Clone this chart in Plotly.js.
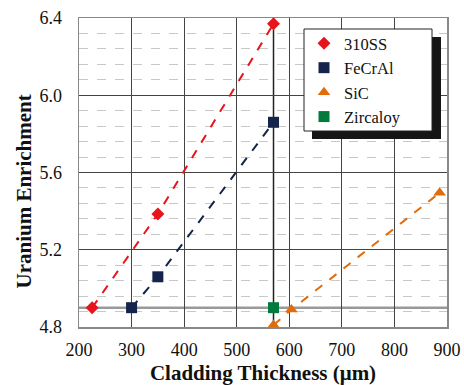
<!DOCTYPE html>
<html><head><meta charset="utf-8">
<script src="https://cdn.plot.ly/plotly-3.0.1.min.js"></script>
<style>body{margin:0;background:#fff}#c{width:464px;height:385px}</style>
</head><body><div id="c"></div>
<script>
const ss310X = [225, 350, 570];
const ss310Y = [4.90, 5.385, 6.37];
const fecralX = [300, 350, 570];
const fecralY = [4.90, 5.06, 5.86];
const sicX = [570, 604, 886];
const sicY = [4.81, 4.89, 5.495];
const zircX = [570];
const zircY = [4.90];
const xTicks = [200, 300, 400, 500, 600, 700, 800, 900];
const yTicks = [4.8, 5.2, 5.6, 6.0, 6.4];

const RED = '#e8141c', NAVY = '#14244a', ORANGE = '#e36c0a', GREEN = '#007a3d';
const F = '"Liberation Serif", "Times New Roman", serif';

function lineTrace(x, y, c) {
  return {x, y, mode: 'lines', line: {color: c, width: 2, dash: 'dash'}, showlegend: false, hoverinfo: 'skip'};
}
function markTrace(x, y, name, sym, c, s) {
  return {x, y, name, mode: 'markers', marker: {symbol: sym, color: c, size: s}};
}

const data = [
  lineTrace(ss310X, ss310Y, RED),
  lineTrace(fecralX, fecralY, NAVY),
  lineTrace(sicX, sicY, ORANGE),
  markTrace(ss310X, ss310Y, '310SS', 'diamond', RED, 10),
  markTrace(fecralX, fecralY, 'FeCrAl', 'square', NAVY, 11),
  markTrace(sicX, sicY, 'SiC', 'triangle-up', ORANGE, 11),
  markTrace(zircX, zircY, 'Zircaloy', 'square', GREEN, 11)
];

// plot area in pixels: x 79..447, y 18..327
const PL = 79, PR = 447, PT = 18, PB = 327;
const pxX = v => (v - PL) / (PR - PL);
const pxY = v => (PB - v) / (PB - PT);

const layout = {
  width: 464, height: 385,
  margin: {l: PL, r: 464 - PR, t: PT, b: 385 - PB},
  paper_bgcolor: '#fff', plot_bgcolor: '#fff',
  font: {family: F, size: 18, color: '#111'},
  xaxis: {
    range: [200, 900], tickvals: xTicks, ticktext: xTicks.map(String),
    showgrid: true, gridcolor: '#444', gridwidth: 1, zeroline: false,
    showline: true, linecolor: '#888', linewidth: 1.5, mirror: true,
    ticks: '', ticklabelstandoff: 6,
    tickfont: {family: F, size: 18, color: '#111'},
    title: {text: 'Cladding Thickness (μm)', font: {family: F, size: 21, weight: 'bold', color: '#111'}, standoff: 6}
  },
  yaxis: {
    range: [4.8, 6.4], tickvals: yTicks, ticktext: yTicks.map(v => v.toFixed(1)),
    showgrid: true, gridcolor: '#444', gridwidth: 1, zeroline: false,
    showline: true, linecolor: '#888', linewidth: 1.5, mirror: true,
    ticks: '', ticklabelstandoff: 12,
    tickfont: {family: F, size: 18, color: '#111'},
    minor: {tick0: 4.8, dtick: 0.08, showgrid: true, gridcolor: '#c8c8c8', griddash: 'dash', gridwidth: 1, ticks: ''}
  },
  annotations: [{
    text: 'Uranium Enrichment', textangle: -90, showarrow: false,
    xref: 'paper', yref: 'paper', x: pxX(23), y: pxY(191.5), xanchor: 'center', yanchor: 'middle',
    font: {family: F, size: 21, weight: 'bold', color: '#111'}
  }],
  shapes: [
    {type: 'line', xref: 'x', yref: 'paper', x0: zircX[0], x1: zircX[0], y0: 0, y1: 1, line: {color: '#222', width: 1.5}, layer: 'below'},
    {type: 'line', xref: 'paper', yref: 'y', x0: 0, x1: 1, y0: zircY[0], y1: zircY[0], line: {color: '#999', width: 2.5}, layer: 'below'},
    // legend drop shadow and box
    {type: 'rect', xref: 'paper', yref: 'paper', x0: pxX(312), x1: pxX(441), y0: pxY(139), y1: pxY(37), fillcolor: '#151515', line: {width: 0}, layer: 'above'},
    {type: 'rect', xref: 'paper', yref: 'paper', x0: pxX(304), x1: pxX(432), y0: pxY(131), y1: pxY(29), fillcolor: '#fff', line: {color: '#222', width: 1}, layer: 'above'}
  ],
  legend: {
    x: pxX(304), y: pxY(26), xanchor: 'left', yanchor: 'top',
    bgcolor: 'rgba(0,0,0,0)', borderwidth: 0,
    font: {family: F, size: 16.5, color: '#111'}
  }
};
Plotly.newPlot('c', data, layout, {staticPlot: true, displayModeBar: false});
</script></body></html>
